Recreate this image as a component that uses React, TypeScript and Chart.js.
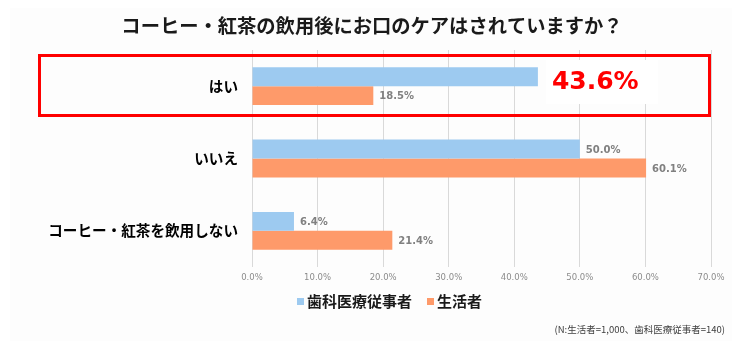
import React, { useEffect, useRef } from "react";
import { Chart, registerables } from "chart.js";

Chart.register(...registerables);

const title = "コーヒー・紅茶の飲用後にお口のケアはされていますか？";
const categories = ["はい", "いいえ", "コーヒー・紅茶を飲用しない"];
const seriesNames = ["歯科医療従事者", "生活者"];
const dentalValues = [43.6, 50.0, 6.4];
const consumerValues = [18.5, 60.1, 21.4];
const xTicks = [0, 10, 20, 30, 40, 50, 60, 70];
const footnote = "(N:生活者=1,000、歯科医療従事者=140)";

const BLUE = "#9dcaf0";
const ORANGE = "#fe9a6a";
const JP = '"Noto Sans CJK JP", "Noto Sans", sans-serif';
const NUM = '"DejaVu Sans", Verdana, sans-serif';

export default function App() {
  const ref = useRef<HTMLCanvasElement | null>(null);

  useEffect(() => {
    document.body.style.margin = "0";
    const canvas = ref.current;
    if (!canvas) return;

    const decor = {
      id: "decor",
      beforeDraw(chart: any) {
        const ctx = chart.ctx;
        ctx.save();
        ctx.fillStyle = "#ffffff";
        ctx.fillRect(0, 0, chart.width, chart.height);
        ctx.fillStyle = "#fdfdfd";
        ctx.fillRect(10, 8, 722, 333);
        ctx.restore();
      },
      afterDatasetsDraw(chart: any) {
        const ctx = chart.ctx;
        ctx.save();
        ctx.font = `bold 10px ${NUM}`;
        ctx.fillStyle = "#808080";
        ctx.textBaseline = "middle";
        ctx.textAlign = "left";
        chart.data.datasets.forEach((ds: any, i: number) => {
          const meta = chart.getDatasetMeta(i);
          meta.data.forEach((el: any, j: number) => {
            if (i === 0 && j === 0) return;
            ctx.fillText(`${Number(ds.data[j]).toFixed(1)}%`, el.x + 6, el.y + 1);
          });
        });
        // highlighted value
        const hl = chart.getDatasetMeta(0).data[0];
        const hx = hl.x + 14;
        ctx.fillStyle = "#ffffff";
        ctx.fillRect(hx - 6, 60, 112, 44);
        ctx.font = `bold 25px ${NUM}`;
        ctx.fillStyle = "#ff0000";
        ctx.fillText(`${dentalValues[0].toFixed(1)}%`, hx, 82);
        ctx.restore();
      },
      afterDraw(chart: any) {
        const ctx = chart.ctx;
        ctx.save();
        // title
        ctx.font = `bold 19.3px ${JP}`;
        ctx.fillStyle = "#1a1a1a";
        ctx.textAlign = "center";
        ctx.textBaseline = "middle";
        ctx.fillText(title, 372, 26);
        // red box
        ctx.strokeStyle = "#ff0000";
        ctx.lineWidth = 3;
        ctx.strokeRect(39.5, 55.5, 670, 60);
        // legend
        ctx.font = `bold 15px ${JP}`;
        ctx.textAlign = "left";
        ctx.textBaseline = "middle";
        const colors = [BLUE, ORANGE];
        const starts = [297, 427];
        seriesNames.forEach((name, i) => {
          ctx.fillStyle = colors[i];
          ctx.fillRect(starts[i], 298, 7, 7);
          ctx.fillStyle = "#1a1a1a";
          ctx.fillText(name, starts[i] + 10, 301);
        });
        // footnote
        ctx.font = `9.5px ${JP}`;
        ctx.fillStyle = "#404040";
        ctx.textAlign = "right";
        ctx.fillText(footnote, 725, 329);
        ctx.restore();
      },
    };

    const chart = new Chart(canvas, {
      type: "bar",
      data: {
        labels: categories,
        datasets: [
          {
            label: seriesNames[0],
            data: dentalValues,
            backgroundColor: BLUE,
            categoryPercentage: 0.524,
            barPercentage: 1,
          },
          {
            label: seriesNames[1],
            data: consumerValues,
            backgroundColor: ORANGE,
            categoryPercentage: 0.524,
            barPercentage: 1,
          },
        ],
      },
      options: {
        indexAxis: "y",
        responsive: false,
        animation: false,
        layout: { padding: { top: 50, bottom: 60, left: 0, right: 44 } },
        plugins: {
          legend: { display: false },
          tooltip: { enabled: false },
          title: { display: false },
        },
        scales: {
          x: {
            min: xTicks[0],
            max: xTicks[xTicks.length - 1],
            afterBuildTicks: (s: any) => {
              s.ticks = xTicks.map((v) => ({ value: v }));
            },
            afterFit: (s: any) => {
              s.height = 20;
            },
            ticks: {
              padding: 6,
              color: "#8c8c8c",
              font: { family: NUM, size: 8.5 },
              callback: (v: any) => `${Number(v).toFixed(1)}%`,
              maxRotation: 0,
            },
            grid: { color: "#d9d9d9", drawTicks: false },
            border: { display: false },
          },
          y: {
            afterFit: (s: any) => {
              s.width = 252;
            },
            ticks: {
              padding: 14,
              color: "#000000",
              font: { family: JP, size: 14.6, weight: "bold" },
            },
            grid: { display: false, drawTicks: false },
            border: { display: false },
          },
        },
      },
      plugins: [decor],
    } as any);

    return () => chart.destroy();
  }, []);

  return (
    <div style={{ width: 755, height: 347 }}>
      <canvas ref={ref} width={755} height={347} />
    </div>
  );
}
